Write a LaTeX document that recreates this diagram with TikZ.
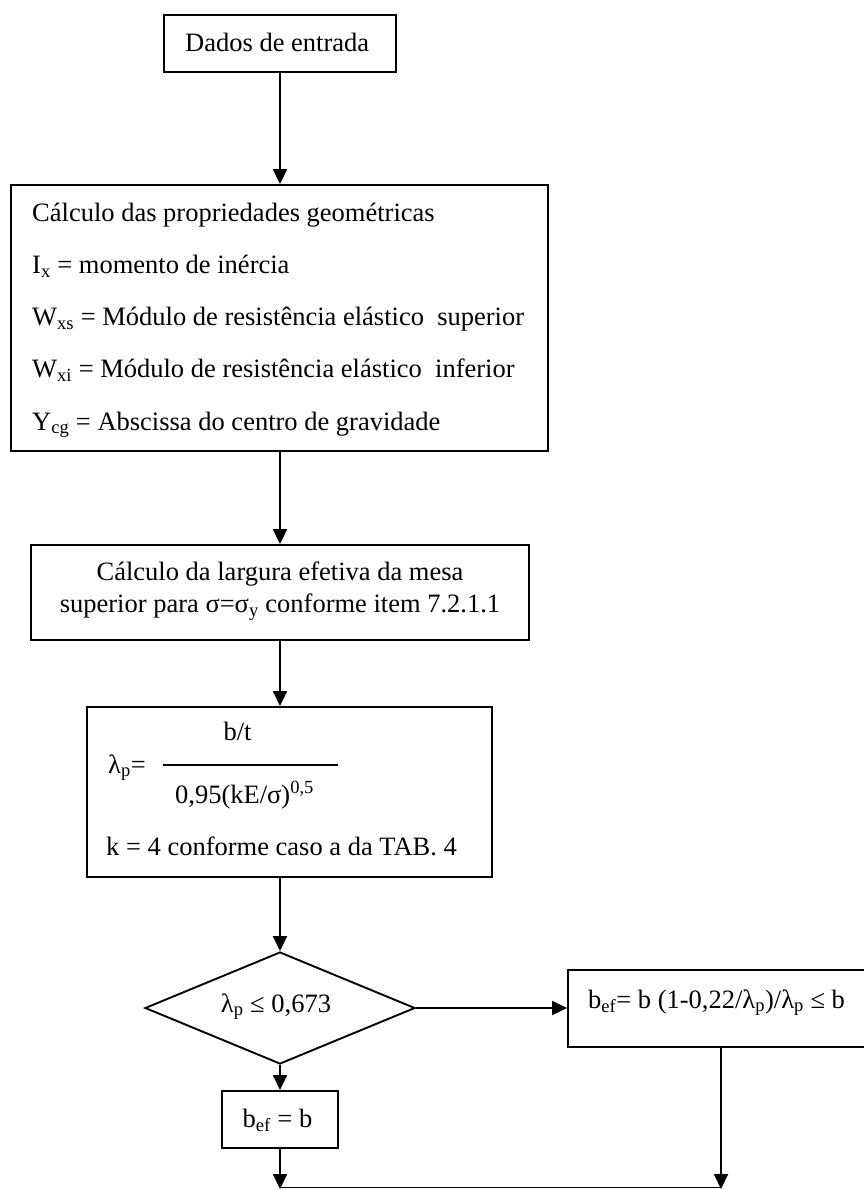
\documentclass[tikz,border=0pt]{standalone}
\usepackage{fontspec}
\setmainfont{Liberation Serif}
\usetikzlibrary{arrows.meta,shapes.geometric}
\newcommand\sbs[1]{\textsubscript{#1}}
\newcommand\sps[1]{\textsuperscript{#1}}

\begin{document}
\begin{tikzpicture}[x=1pt,y=-1pt,
  box/.style={draw,line width=1.9pt,inner sep=0pt},
  txt/.style={inner sep=0pt,font=\fontsize{26.5}{32}\selectfont},
  conn/.style={line width=1.9pt,-{Triangle[length=15pt,width=14pt]}},
  plain/.style={line width=1.9pt},
]
\useasboundingbox (0,0) rectangle (863,1189);

% boxes of the flowchart
\node[box,minimum width=232,minimum height=57] (entrada) at (280,43.5) {};
\node[box,minimum width=537,minimum height=266] (geom) at (279.5,318) {};
\node[box,minimum width=498,minimum height=95] (largura) at (280,592.5) {};
\node[box,minimum width=405,minimum height=170] (lambda) at (289.5,792) {};
\node[box,diamond,minimum width=270,minimum height=112] (dec) at (280,1008) {};
\node[box,minimum width=116,minimum height=57] (befb) at (280,1119.5) {};
\node[box,minimum width=306,minimum height=77] (befr) at (721,1008.5) {};

% texts
\node[txt,anchor=base west] (t1) at (185,51) {Dados de entrada};

\node[txt,anchor=base west] (g1) at (32,221.5) {Cálculo das propriedades geométricas};
\node[txt,anchor=base west] (g2) at (32,273.6) {I\sbs{x} = momento de inércia};
\node[txt,anchor=base west] (g3) at (32,325.7) {W\sbs{xs} = Módulo de resistência elástico~ superior};
\node[txt,anchor=base west] (g4) at (32,377.8) {W\sbs{xi} = Módulo de resistência elástico~ inferior};
\node[txt,anchor=base west] (g5) at (32,430) {Y\sbs{cg} = Abscissa do centro de gravidade};

\node[txt,anchor=base] (l1) at (280,580) {Cálculo da largura efetiva da mesa};
\node[txt,anchor=base] (l2) at (280,612.5) {superior para σ=σ\sbs{y} conforme item 7.2.1.1};

\node[txt,anchor=base west] (lp) at (108,773) {λ\sbs{p}=};
\node[txt,anchor=base] (num) at (237.5,740) {b/t};
\node[txt,anchor=base west] (den) at (175,803) {0,95(kE/σ)\sps{0,5}};
\node[txt,anchor=base west] (kk) at (106,855) {k = 4 conforme caso a da TAB. 4};
\coordinate (fracL) at (163,765);
\coordinate (fracR) at (338,765);
\draw[plain] (fracL) -- (fracR);

\node[txt,anchor=base] (dt) at (276,1012) {λ\sbs{p} ≤ 0,673};
\node[txt,anchor=base] (bt) at (277.5,1127) {b\sbs{ef} = b};
\node[txt,anchor=base west] (rt) at (588,1008) {b\sbs{ef}= b (1-0,22/λ\sbs{p})/λ\sbs{p} ≤ b};

% connectors
\draw[conn] (entrada.south) -- (entrada.south |- geom.north);
\draw[conn] (largura.north |- geom.south) -- (largura.north);
\draw[conn] (largura.south) -- (largura.south |- lambda.north);
\draw[conn] (dec.north |- lambda.south) -- (dec.north);
\draw[conn] (dec.east) -- (dec.east -| befr.west);
\draw[conn] (dec.south) -- (befb.north);
\coordinate (endL) at (280,1189);
\coordinate (endR) at (721,1189);
\draw[conn] (befb.south) -- (endL);
\draw[conn] (befr.south) -- (endR);
\draw[plain] ([yshift=1.5pt]endL) -- ([yshift=1.5pt]endR);
\end{tikzpicture}
\end{document}
